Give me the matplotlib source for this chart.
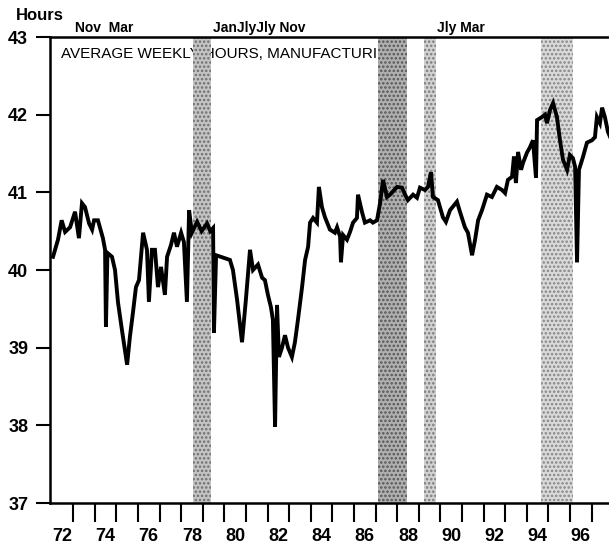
import matplotlib
matplotlib.use("Agg")
import matplotlib.pyplot as plt

# ---- data ----
years = [1972.07, 1972.30, 1972.47, 1972.63, 1972.86, 1973.09, 1973.27, 1973.41, 1973.55, 1973.74,
         1973.88, 1973.97, 1974.15, 1974.38, 1974.48, 1974.52, 1974.59, 1974.80, 1974.94, 1975.08,
         1975.26, 1975.40, 1975.50, 1975.63, 1975.77, 1975.91, 1976.05, 1976.24, 1976.42, 1976.51,
         1976.65, 1976.79, 1976.93, 1977.07, 1977.25, 1977.35, 1977.53, 1977.67, 1977.81, 1978.00,
         1978.13, 1978.27, 1978.37, 1978.50, 1978.74, 1978.95, 1979.20, 1979.35, 1979.48, 1979.52,
         1979.62, 1979.94, 1980.26, 1980.40, 1980.59, 1980.82, 1981.00, 1981.19, 1981.33, 1981.56,
         1981.75, 1981.88, 1982.02, 1982.16, 1982.25, 1982.35, 1982.44, 1982.53, 1982.67, 1982.81,
         1982.95, 1983.13, 1983.27, 1983.41, 1983.60, 1983.74, 1983.88, 1983.97, 1984.11, 1984.29,
         1984.38, 1984.52, 1984.66, 1984.89, 1985.12, 1985.22, 1985.36, 1985.40, 1985.50, 1985.68,
         1985.82, 1985.96, 1986.14, 1986.19, 1986.38, 1986.51, 1986.75, 1986.88, 1987.07, 1987.21,
         1987.35, 1987.53, 1987.67, 1988.00, 1988.23, 1988.37, 1988.50, 1988.74, 1988.92, 1989.06,
         1989.29, 1989.43, 1989.57, 1989.66, 1989.89, 1990.12, 1990.26, 1990.45, 1990.77, 1990.91,
         1991.14, 1991.28, 1991.47, 1991.61, 1991.75, 1991.93, 1992.16, 1992.39, 1992.62, 1992.86,
         1993.00, 1993.13, 1993.32, 1993.41, 1993.50, 1993.60, 1993.74, 1993.83, 1994.01, 1994.15,
         1994.29, 1994.43, 1994.48, 1994.71, 1994.85, 1994.94, 1995.08, 1995.22, 1995.40, 1995.54,
         1995.68, 1995.87, 1996.00, 1996.14, 1996.24, 1996.33, 1996.42, 1996.61, 1996.79, 1997.02,
         1997.16, 1997.25, 1997.39, 1997.49, 1997.62, 1997.76, 1997.85]
hours = [40.17, 40.39, 40.64, 40.49, 40.55, 40.75, 40.41, 40.86, 40.81, 40.60,
         40.52, 40.64, 40.64, 40.41, 40.26, 39.27, 40.22, 40.17, 40.00, 39.58,
         39.23, 38.97, 38.78, 39.14, 39.45, 39.78, 39.87, 40.48, 40.26, 39.59,
         40.26, 40.26, 39.78, 40.04, 39.68, 40.17, 40.32, 40.48, 40.30, 40.48,
         40.36, 39.59, 40.77, 40.48, 40.62, 40.50, 40.60, 40.50, 40.54, 39.19,
         40.19, 40.16, 40.13, 40.00, 39.62, 39.07, 39.62, 40.26, 40.00, 40.07,
         39.90, 39.87, 39.68, 39.52, 39.36, 37.98, 39.55, 38.88, 39.00, 39.16,
         39.00, 38.88, 39.07, 39.36, 39.78, 40.13, 40.30, 40.61, 40.67, 40.61,
         41.07, 40.81, 40.68, 40.52, 40.48, 40.55, 40.43, 40.10, 40.45, 40.39,
         40.49, 40.61, 40.67, 40.97, 40.74, 40.61, 40.64, 40.61, 40.64, 40.86,
         41.16, 40.94, 40.97, 41.07, 41.06, 40.97, 40.90, 40.97, 40.93, 41.06,
         41.03, 41.07, 41.26, 40.94, 40.90, 40.68, 40.62, 40.77, 40.88, 40.75,
         40.55, 40.48, 40.19, 40.39, 40.64, 40.77, 40.97, 40.94, 41.07, 41.03,
         40.99, 41.16, 41.20, 41.46, 41.12, 41.52, 41.29, 41.38, 41.51, 41.58,
         41.67, 41.19, 41.93, 41.97, 42.00, 41.89, 42.06, 42.15, 41.97, 41.67,
         41.42, 41.29, 41.48, 41.44, 41.33, 40.10, 41.29, 41.46, 41.64, 41.67,
         41.71, 41.97, 41.89, 42.09, 41.97, 41.78, 41.72]

shade_start = [1978.55, 1987.12, 1989.24, 1994.66]
shade_end = [1979.38, 1988.46, 1989.80, 1996.14]
shade_face = ["#c4c4c4", "#b0b0b0", "#d2d2d2", "#dadada"]
shade_dots = ["#6e6e6e", "#555555", "#7a7a7a", "#858585"]

# cycle turning-point labels above the frame (grouped as printed)
turn_labels = ["Nov  Mar", "JanJlyJly Nov", "Jly Mar"]
turn_left = [1973.09, 1979.48, 1989.84]

tick_years = list(range(1973, 1998))
label_years = list(range(1972, 1997, 2))
label_text = [f"{y % 100:02d}" for y in label_years]
y_ticks = [37, 38, 39, 40, 41, 42, 43]

title = "AVERAGE WEEKLY HOURS, MANUFACTURING"

# ---- figure ----
W, H = 609, 547
fig = plt.figure(figsize=(W / 100, H / 100), dpi=100)
x0, x1 = 1971.95, 1998.0
px_per_year = 21.6
left_px = 51.5 - (1972 - x0) * px_per_year
width_px = (x1 - x0) * px_per_year
top_px, bot_px = 37, 503
ax = fig.add_axes([left_px / W, (H - bot_px) / H, width_px / W, (bot_px - top_px) / H])
ax.set_xlim(x0, x1)
ax.set_ylim(37, 43)

bold = dict(family=["Liberation Sans Narrow", "Liberation Sans", "DejaVu Sans"], weight="bold")

plt.rcParams["hatch.linewidth"] = 1.2
for s, e, fc, dc in zip(shade_start, shade_end, shade_face, shade_dots):
    ax.axvspan(s, e, facecolor=fc, edgecolor=dc, hatch="....", lw=0, zorder=2)

ax.text(0.019, 0.963, title, transform=ax.transAxes, ha="left", va="center",
        fontsize=11, family=["Liberation Sans", "DejaVu Sans"], zorder=1)

ax.plot(years, hours, color="black", lw=2.8, zorder=3, solid_joinstyle="miter")

for sp in ["left", "top", "bottom"]:
    ax.spines[sp].set_linewidth(1.8)
    ax.spines[sp].set_zorder(5)
ax.spines["right"].set_visible(False)

ax.set_yticks(y_ticks)
ax.set_yticklabels([str(v) for v in y_ticks], fontsize=13, **bold)
ax.tick_params(axis="y", direction="out", length=10, width=1.5, pad=6)

ax.set_xticks(tick_years)
ax.set_xticklabels([])
ax.tick_params(axis="x", which="major", direction="out", length=14, width=1.5)
ax.set_xticks([y + 0.5 for y in label_years], minor=True)
ax.set_xticklabels(label_text, minor=True, fontsize=13, **bold)
ax.tick_params(axis="x", which="minor", length=0, pad=18)

for lab, d in zip(turn_labels, turn_left):
    ax.text(d, 1.004, lab, transform=ax.get_xaxis_transform(), ha="left", va="bottom",
            fontsize=10, clip_on=False, **bold)

fig.text(40 / W, 1 - 15 / H, "Hours", ha="center", va="center", fontsize=12, **bold)

fig.savefig("out.png", dpi=100)
